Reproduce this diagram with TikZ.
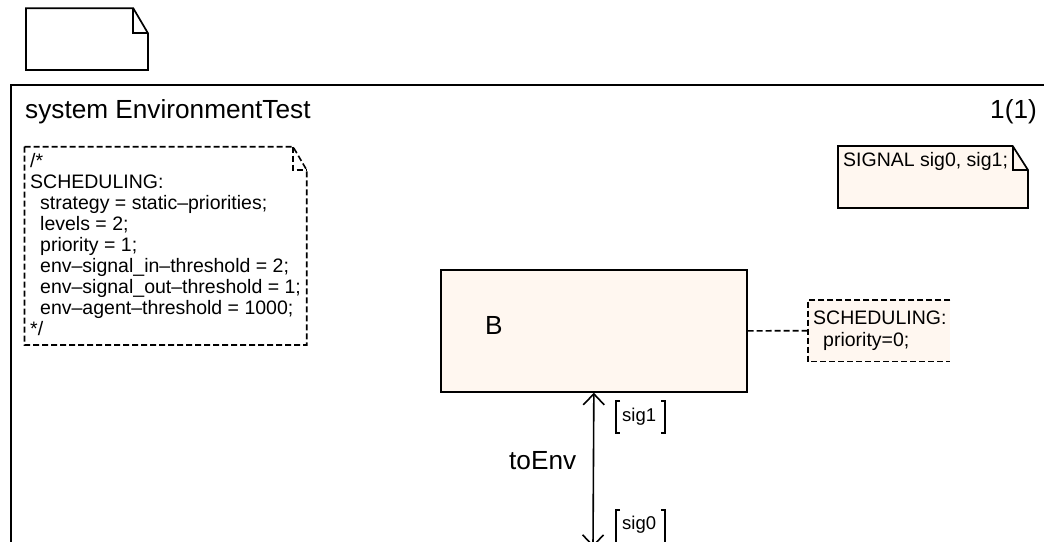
\documentclass[tikz,border=0pt]{standalone}
\usepackage{fontspec}
\setmainfont{Liberation Sans}
\usetikzlibrary{arrows.meta}
\definecolor{cream}{HTML}{FFF7F0}
\newcommand\largetext{\fontsize{26.2}{30}\selectfont}
\newcommand\notetext{\fontsize{19.5}{21}\selectfont}
\newcommand\sigtext{\fontsize{18.5}{20}\selectfont}
\begin{document}
\begin{tikzpicture}[x=1pt,y=-1pt,
  frameline/.style={line width=1.7pt, line join=miter},
  dashline/.style={line width=1.6pt, dash pattern=on 6pt off 3pt},
  bracketline/.style={line width=1.2pt},
  chanline/.style={line width=1.6pt, {Straight Barb[length=11pt,width=21pt]}-{Straight Barb[length=11pt,width=21pt]}},
  txt/.style={inner sep=0pt, anchor=base west},
]
\useasboundingbox (0,0) rectangle (1044,541);
\clip (0,0) rectangle (1044,541);

% page symbol above the frame
\draw[frameline] (26,8.3) -- (133.3,8.3) -- (148,33.3) -- (148,70) -- (26,70) -- cycle;
\draw[frameline] (133.3,8.3) -- (133.3,33.3) -- (148,33.3);

% diagram frame
\draw[frameline] (11,560) -- (11,85) -- (1060,85);
\node[txt, font=\largetext] (title) at (25,118) {system EnvironmentTest};
\node[txt, anchor=base east, font=\largetext] (pagenum) at (1037,118) {1(1)};

% scheduling comment
\draw[dashline] (24.5,146.7) -- (293,146.7) -- (306.7,170) -- (306.7,345) -- (24.5,345) -- cycle;
\draw[dashline] (293,146.7) -- (293,170) -- (306.7,170);
\node[inner sep=0pt, anchor=north west, align=left, font=\notetext] (comment) at (30,153) {%
/*\\
SCHEDULING:\\
\hspace*{10pt}strategy = static–priorities;\\
\hspace*{10pt}levels = 2;\\
\hspace*{10pt}priority = 1;\\
\hspace*{10pt}env–signal\_in–threshold = 2;\\
\hspace*{10pt}env–signal\_out–threshold = 1;\\
\hspace*{10pt}env–agent–threshold = 1000;\\
*/};

% signal declaration
\draw[frameline, fill=cream] (838,146) -- (1012.7,146) -- (1028,170) -- (1028,208) -- (838,208) -- cycle;
\draw[frameline] (1012.7,146) -- (1012.7,170) -- (1028,170);
\node[txt, font=\notetext] (sigdecl) at (843,166.7) {SIGNAL sig0, sig1;};

% block B
\node[draw, frameline, fill=cream, inner sep=0pt, anchor=north west,
      minimum width=306pt, minimum height=122pt] (B) at (440,269) {};
\node[txt, font=\largetext] (Bname) at (485,334) {B};

% scheduling note of B
\node[fill=cream, inner sep=0pt, anchor=north west, minimum width=142pt, minimum height=61pt] (schedB) at (808,300) {};
\draw[dashline] (schedB.north east) -- (schedB.north west) -- (schedB.south west) -- (schedB.south east);
\node[inner sep=0pt, anchor=north west, align=left, font=\fontsize{19.5}{22}\selectfont] (schedBtext) at (813,311) {%
SCHEDULING:\\
\hspace*{10pt}priority=0;};
\draw[dashline] (B.east) -- (schedB.west);

% channel to the environment
\coordinate (envend) at (593,547);
\draw[chanline] (envend) -- (B.south);
\node[txt, font=\largetext] (chname) at (509,469) {toEnv};

% signal lists
\node[txt, font=\sigtext] (sig1) at (622,421) {sig1};
\draw[bracketline] (620,401) -- (616,401) -- (616,433) -- (620,433);
\draw[bracketline] (661,401) -- (665,401) -- (665,433) -- (661,433);
\node[txt, font=\sigtext] (sig0) at (622,529) {sig0};
\draw[bracketline] (620,510) -- (616,510) -- (616,550);
\draw[bracketline] (661,510) -- (665,510) -- (665,550);
\end{tikzpicture}
\end{document}
